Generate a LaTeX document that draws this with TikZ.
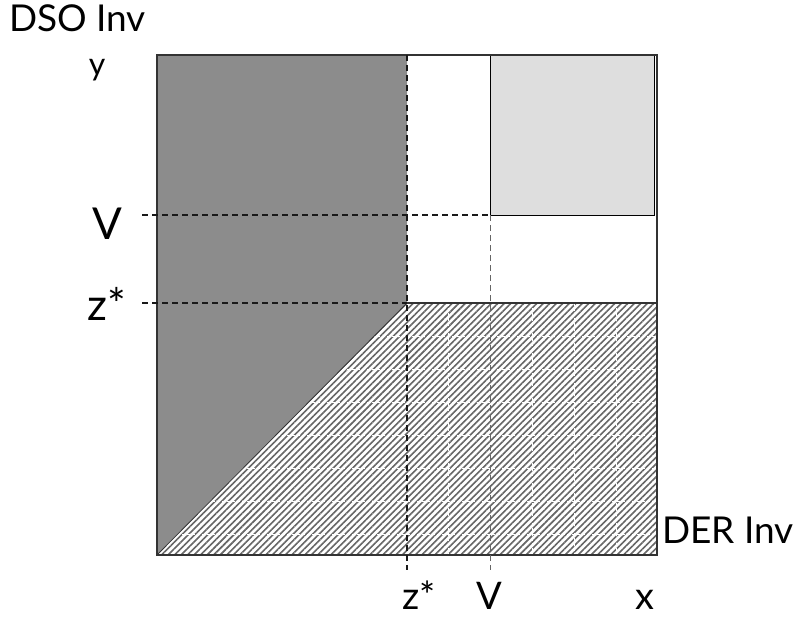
\documentclass[tikz,border=0pt]{standalone}
\usepackage{fontspec}
\setmainfont{Lato}
\usetikzlibrary{patterns.meta}
\begin{document}
\begin{tikzpicture}[x=1pt,y=-1pt,
  guide/.style={dashed,dash pattern=on 6pt off 4pt,line width=1.2pt,black!90},
  lbl/.style={font=\fontsize{44}{44}\selectfont,inner sep=0pt},
  blbl/.style={font=\fontsize{38}{38}\selectfont,inner sep=0pt},
  axlbl/.style={font=\fontsize{37}{37}\selectfont,inner sep=0pt}]
\useasboundingbox (0,0) rectangle (801,619);
% key points
\coordinate (BL) at (157,555);
\coordinate (TL) at (157,55);
\coordinate (TR) at (657,55);
\coordinate (BR) at (657,555);
\coordinate (ZT) at (407,55);
\coordinate (ZC) at (407,303);
\coordinate (RC) at (657,303);
% dark region
\fill[black!45] (TL) -- (ZT) -- (ZC) -- (BL) -- cycle;
% hatched region
\fill[white] (BL) -- (ZC) -- (RC) -- (BR) -- cycle;
\fill[pattern={Lines[angle=45,distance=4.6pt,line width=1.6pt]},pattern color=black!60] (BL) -- (ZC) -- (RC) -- (BR) -- cycle;
\begin{scope}
\clip (BL) -- (ZC) -- (RC) -- (BR) -- cycle;
\foreach \yy in {336,369,402,435,468,501,534}
  \draw[white,line width=0.6pt,dash pattern=on 3pt off 2pt] (157,\yy) -- (657,\yy);
\foreach \xx in {448,532,574,616}
  \draw[white,line width=0.6pt,dash pattern=on 3pt off 2pt] (\xx,303) -- (\xx,555);
\end{scope}
% light gray box
\draw[fill=black!13,line width=0.9pt] (490,55) rectangle (654,215);
% frame
\draw[line width=1.3pt,black!80] (TL) rectangle (BR);
\draw[line width=1.3pt,black!80] (ZC) -- (RC);
\draw[line width=0.8pt,black!80] (BL) -- (ZC);
% dashed guide lines
\coordinate (Vl) at (142,215);
\coordinate (Vr) at (490,215);
\coordinate (Zl) at (142,303);
\coordinate (Vb) at (490,570);
\coordinate (Zb) at (407,570);
\draw[guide] (Vl) -- (Vr);
\draw[guide] (Zl) -- (ZC);
\draw[guide] (ZT) -- (Zb);
\draw[guide,black!60,line width=0.9pt] (Vr) -- (Vb);
% labels
\node[axlbl,anchor=base west] (dso) at (9,31) {DSO Inv};
\node[font=\fontsize{32}{32}\selectfont,inner sep=0pt,anchor=base] (ylab) at (97,75) {y};
\node[lbl,anchor=base] (Vlab) at (107,239) {V};
\node[lbl,anchor=base] (zlab) at (107,320) {z*};
\node[axlbl,anchor=base west] (der) at (662,543) {DER Inv};
\node[blbl,anchor=base] (zb) at (419,609) {z*};
\node[blbl,anchor=base] (vb) at (489,609) {V};
\node[blbl,anchor=base] (xb) at (645,609) {x};
\end{tikzpicture}
\end{document}
